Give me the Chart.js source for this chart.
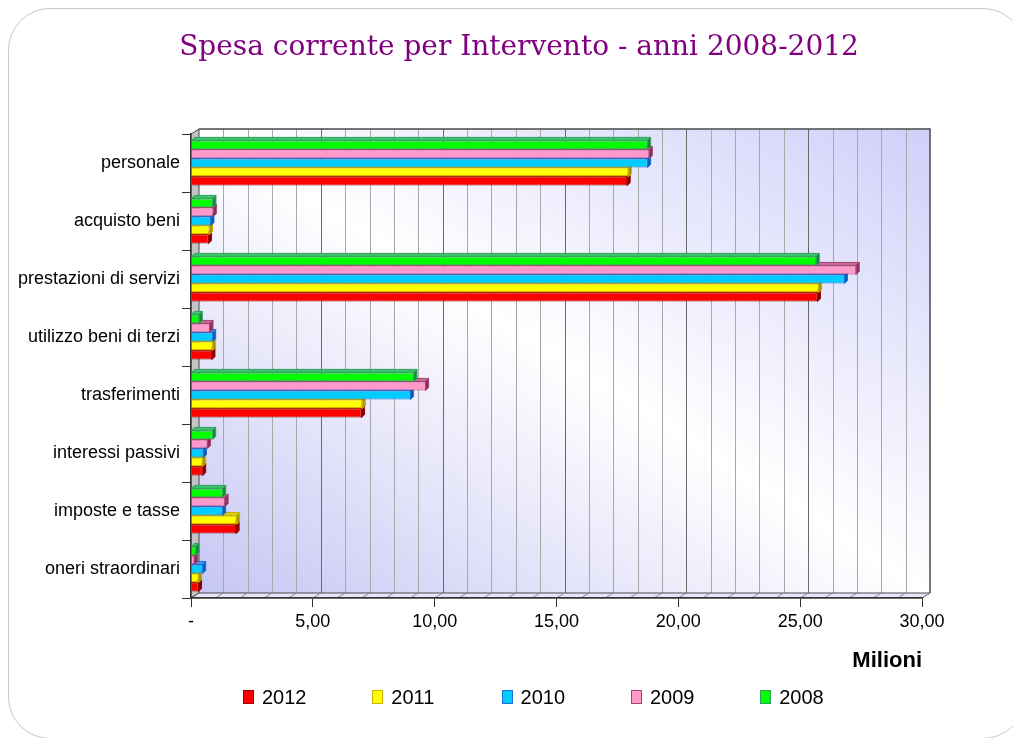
<!DOCTYPE html>
<html>
<head>
<meta charset="utf-8">
<title>Spesa corrente per Intervento - anni 2008-2012</title>
<script src="https://cdn.jsdelivr.net/npm/chart.js@4.4.1/dist/chart.umd.min.js"></script>
<style>
    body { margin: 0; background: #ffffff; }
    #wrap { position: relative; width: 1013px; height: 738px; overflow: hidden; }
    #frame { position: absolute; left: 8px; top: 8px; width: 1017px; height: 731px;
             border: 1.5px solid #c8c8c8; border-radius: 42px; box-sizing: border-box; }
    #chart { position: absolute; left: 0; top: 0; }
    #title { position: absolute; left: 0; top: 29px; width: 1038px; height: 34px; line-height: 34px;
             text-align: center; white-space: nowrap; color: #800080;
             font-family: "DejaVu Serif", serif; font-size: 28px; }
    #legend { position: absolute; left: 243px; top: 685px; height: 24px; display: flex;
              font-family: "Liberation Sans", Arial, sans-serif; font-size: 20px; color: #000; }
    .item { display: flex; align-items: center; width: 129.3px; }
    .swatch { width: 11px; height: 14px; margin-right: 8px; border: 1.5px solid; box-sizing: border-box; }
</style>
</head>
<body>
<div id="wrap">
    <div id="frame"></div>
    <canvas id="chart" width="1013" height="738"></canvas>
    <div id="title">Spesa corrente per Intervento - anni 2008-2012</div>
    <div id="legend"></div>
</div>
<script>
// valori in milioni di euro
const categories = ["personale", "acquisto beni", "prestazioni di servizi", "utilizzo beni di terzi",
                    "trasferimenti", "interessi passivi", "imposte e tasse", "oneri straordinari"];
const years = ["2008", "2009", "2010", "2011", "2012"];

const spesa2008 = [18.74, 0.90, 25.66, 0.34, 9.15, 0.89, 1.30, 0.20];
const spesa2009 = [18.81, 0.92, 27.30, 0.78, 9.63, 0.68, 1.40, 0.14];
const spesa2010 = [18.74, 0.82, 26.82, 0.89, 9.01, 0.51, 1.30, 0.48];
const spesa2011 = [17.95, 0.76, 25.76, 0.89, 7.03, 0.48, 1.87, 0.31];
const spesa2012 = [17.90, 0.72, 25.71, 0.86, 7.00, 0.48, 1.85, 0.31];

const xTicksMax = 30;
const xTicksStep = 5;

const fillColors   = ["#00ff00", "#ff99cc", "#00ccff", "#ffff00", "#ff0000"];
const borderColors = ["#2f9e5e", "#a3426f", "#1c6fd8", "#c9b000", "#9a0000"];
const topColors    = ["#3cc46a", "#c96a98", "#3a9ae8", "#d8cc20", "#c01010"];
const sideColors   = ["#0c8a34", "#8c2c5a", "#0a5cb8", "#a89400", "#800000"];

const DEPTH_X = 8;
const DEPTH_Y = 5;
const BAR_DEPTH = 3;

function formatTick(value) {
    if (value === 0) {
        return "-";
    }
    return value.toFixed(2).replace(".", ",");
}

function polygon(ctx, points, fill, stroke) {
    ctx.beginPath();
    ctx.moveTo(points[0][0], points[0][1]);
    for (let i = 1; i < points.length; i++) {
        ctx.lineTo(points[i][0], points[i][1]);
    }
    ctx.closePath();
    if (fill) {
        ctx.fillStyle = fill;
        ctx.fill();
    }
    if (stroke) {
        ctx.strokeStyle = stroke;
        ctx.stroke();
    }
}

// pareti, pavimento e facce laterali delle barre (effetto 3D)
const wall3d = {
    id: "wall3d",
    beforeDraw(chart) {
        const { ctx, chartArea: { left, right, top, bottom }, scales } = chart;
        const xs = scales.x;
        const dx = DEPTH_X, dy = DEPTH_Y;
        ctx.save();

        const x0 = left + dx, x1 = right + dx, y0 = top - dy, y1 = bottom - dy;
        const w = x1 - x0, h = y1 - y0;
        const len = Math.hypot(w, h);
        const ux = h / len, uy = -w / len;
        const k = w * h / len;
        const cx = (x0 + x1) / 2, cy = (y0 + y1) / 2;
        const grad = ctx.createLinearGradient(cx - k * ux, cy - k * uy, cx + k * ux, cy + k * uy);
        grad.addColorStop(0, "#c6c6f4");
        grad.addColorStop(0.5, "#ffffff");
        grad.addColorStop(1, "#cfcffa");
        ctx.fillStyle = grad;
        ctx.fillRect(x0, y0, w, h);

        ctx.lineWidth = 1;
        for (let v = 1; v < xTicksMax; v++) {
            const px = Math.round(xs.getPixelForValue(v) + dx) + 0.5;
            ctx.strokeStyle = v % xTicksStep === 0 ? "#6a6a6a" : "#a8a8a8";
            ctx.beginPath();
            ctx.moveTo(px, y0);
            ctx.lineTo(px, y1);
            ctx.stroke();
        }

        ctx.lineWidth = 1.5;
        ctx.strokeStyle = "#4a4a4a";
        ctx.beginPath();
        ctx.moveTo(x0, y0);
        ctx.lineTo(x1, y0);
        ctx.lineTo(x1, y1);
        ctx.stroke();

        ctx.lineWidth = 1;
        polygon(ctx, [[left, top], [x0, y0], [x0, y1], [left, bottom]], "#c4c4c4", "#4a4a4a");
        polygon(ctx, [[left, bottom], [x0, y1], [x1, y1], [right, bottom]], "#e6e6fb", "#4a4a4a");

        ctx.strokeStyle = "#8a8a8a";
        for (let v = 1; v <= xTicksMax; v++) {
            const px = xs.getPixelForValue(v);
            ctx.beginPath();
            ctx.moveTo(px, bottom);
            ctx.lineTo(px + dx, y1);
            ctx.stroke();
        }
        ctx.restore();
    },
    beforeDatasetsDraw(chart) {
        const { ctx } = chart;
        const d = BAR_DEPTH;
        ctx.save();
        ctx.lineWidth = 1;
        for (let i = chart.data.datasets.length - 1; i >= 0; i--) {
            const meta = chart.getDatasetMeta(i);
            meta.data.forEach(bar => {
                const { x, y, base, height } = bar.getProps(["x", "y", "base", "height"], true);
                const y0 = y - height / 2;
                const y1 = y + height / 2;
                polygon(ctx, [[base, y0], [base + d, y0 - d], [x + d, y0 - d], [x, y0]],
                        topColors[i], borderColors[i]);
                polygon(ctx, [[x, y0], [x + d, y0 - d], [x + d, y1 - d], [x, y1]],
                        sideColors[i], borderColors[i]);
            });
        }
        ctx.restore();
    }
};

function createChartSpesa(ctx) {
    const series = [spesa2008, spesa2009, spesa2010, spesa2011, spesa2012];
    const datasets = series.map((data, i) => ({
        label: years[i],
        data: data,
        backgroundColor: fillColors[i],
        borderColor: borderColors[i],
        borderWidth: 1,
        borderSkipped: "start"
    }));

    const labelFont = { family: "'Liberation Sans', Arial, sans-serif", size: 18 };

    const graph = new Chart(ctx, {
        type: "bar",
        data: {
            labels: categories,
            datasets: datasets
        },
        options: {
            indexAxis: "y",
            responsive: false,
            animation: false,
            layout: {
                padding: { left: 6, right: 91, top: 134, bottom: 64 }
            },
            datasets: {
                bar: { categoryPercentage: 0.78, barPercentage: 1.0 }
            },
            scales: {
                x: {
                    min: 0,
                    max: xTicksMax,
                    ticks: {
                        stepSize: xTicksStep,
                        color: "#000000",
                        font: labelFont,
                        padding: 4,
                        maxRotation: 0,
                        callback: function(value) {
                            return formatTick(value);
                        }
                    },
                    grid: {
                        drawOnChartArea: false,
                        tickLength: 9,
                        color: "#333333"
                    },
                    border: { color: "#333333", width: 1.5 },
                    title: {
                        display: true,
                        text: "Milioni",
                        align: "end",
                        color: "#000000",
                        padding: 0,
                        font: { family: "'Liberation Sans', Arial, sans-serif", size: 22, weight: "bold" }
                    },
                    afterFit: function(scale) {
                        scale.height = 76;
                    }
                },
                y: {
                    ticks: {
                        color: "#000000",
                        font: labelFont,
                        padding: 2
                    },
                    grid: {
                        drawOnChartArea: false,
                        tickLength: 9,
                        color: "#333333"
                    },
                    border: { color: "#333333", width: 1.5 },
                    afterFit: function(scale) {
                        scale.width = 185;
                    }
                }
            },
            plugins: {
                title: { display: false },
                legend: { display: false },
                tooltip: { enabled: false }
            }
        },
        plugins: [wall3d]
    });

    return graph;
}

function buildLegend(el) {
    for (let i = years.length - 1; i >= 0; i--) {
        const item = document.createElement("div");
        item.className = "item";
        const sw = document.createElement("span");
        sw.className = "swatch";
        sw.style.background = fillColors[i];
        sw.style.borderColor = borderColors[i];
        const txt = document.createElement("span");
        txt.textContent = years[i];
        item.appendChild(sw);
        item.appendChild(txt);
        el.appendChild(item);
    }
}

createChartSpesa(document.getElementById("chart"));
buildLegend(document.getElementById("legend"));
</script>
</body>
</html>
